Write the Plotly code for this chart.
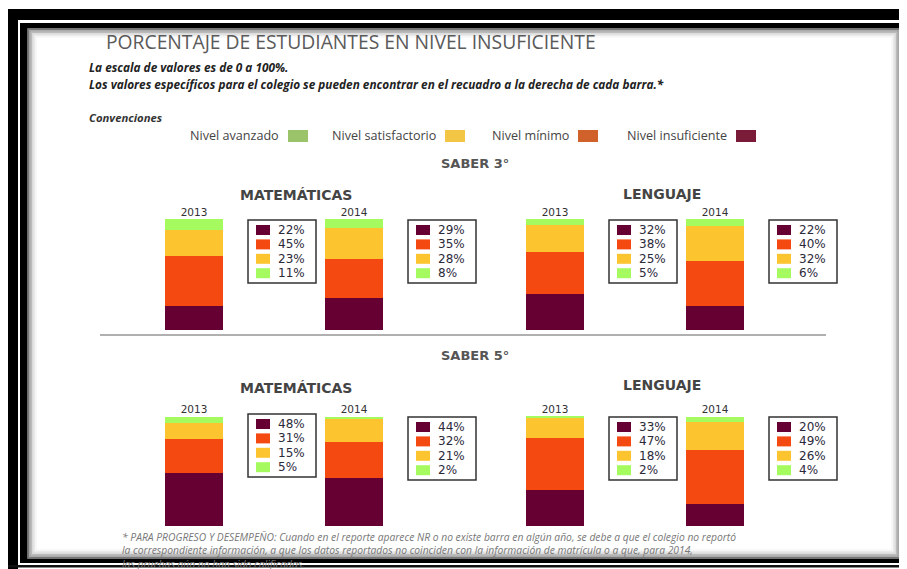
import plotly.graph_objects as go

# page body has an 8px margin: figure is drawn from (8, 8) of the window
OFF = 8
W, H = 907 - OFF, 569 - OFF

# ---------------- data ----------------
years = ["2013", "2014"]
levels = ["Nivel insuficiente", "Nivel mínimo", "Nivel satisfactorio", "Nivel avanzado"]
legend_order = ["Nivel avanzado", "Nivel satisfactorio", "Nivel mínimo", "Nivel insuficiente"]

# values per level: [insuficiente, minimo, satisfactorio, avanzado]
s3_mat_2013 = [22, 45, 23, 11]
s3_mat_2014 = [29, 35, 28, 8]
s3_len_2013 = [32, 38, 25, 5]
s3_len_2014 = [22, 40, 32, 6]
s5_mat_2013 = [48, 31, 15, 5]
s5_mat_2014 = [44, 32, 21, 2]
s5_len_2013 = [33, 47, 18, 2]
s5_len_2014 = [20, 49, 26, 4]

# ---------------- styles ----------------
bar_colors = ["#660033", "#F44A12", "#FCC52F", "#A5FA60"]
conv_colors = {"Nivel avanzado": "#9BC46A", "Nivel satisfactorio": "#F2C544",
               "Nivel mínimo": "#D0612A", "Nivel insuficiente": "#7A1B3A"}


def X(px):
    return (px - OFF) / W


def Y(py):
    return 1 - (py - OFF) / H


fig = go.Figure()

panels = [
    # (axis suffix, data 2013, data 2014, x domain px, y domain px (bottom, top), box tops)
    ("", s3_mat_2013, s3_mat_2014, (114, 434), (330, 219), (220, 220)),
    ("2", s3_len_2013, s3_len_2014, (475, 795), (330, 219), (220, 220)),
    ("3", s5_mat_2013, s5_mat_2014, (114, 434), (526, 416), (414, 417)),
    ("4", s5_len_2013, s5_len_2014, (475, 795), (526, 416), (417, 417)),
]

shapes = []
annotations = []

for suf, d13, d14, xd, yd, btops in panels:
    xa = "x" + suf
    ya = "y" + suf
    for li, lev in enumerate(levels):
        fig.add_trace(go.Bar(
            x=years, y=[d13[li], d14[li]], name=lev,
            marker=dict(color=bar_colors[li], line=dict(width=0)),
            width=0.3625, xaxis=xa, yaxis=ya, showlegend=False,
            hoverinfo="skip",
        ))
    ax = dict(domain=[X(xd[0]), X(xd[1])], range=[-0.5, 1.5], type="category",
              side="top", anchor=ya, showgrid=False, zeroline=False, showline=False,
              ticks="", tickfont=dict(family="DejaVu Sans", size=10.5, color="#333333"),
              ticklabelstandoff=0, fixedrange=True)
    ay = dict(domain=[Y(yd[0]), Y(yd[1])], range=[0, 100], anchor=xa, visible=False,
              fixedrange=True)
    fig.update_layout(**{"xaxis" + suf: ax, "yaxis" + suf: ay})

    # value boxes to the right of each bar
    span = xd[1] - xd[0]
    for yi, vals in enumerate([d13, d14]):
        cx = xd[0] + span * (yi + 0.5) / 2
        bl = cx + 54
        bt = btops[yi]
        shapes.append(dict(type="rect", xref="paper", yref="paper",
                           x0=X(bl), x1=X(bl + 68), y0=Y(bt), y1=Y(bt + 63),
                           line=dict(color="#333333", width=1.5), fillcolor="white"))
        for li, v in enumerate(vals):
            ry = bt + 10 + li * 14.4
            shapes.append(dict(type="rect", xref="paper", yref="paper",
                               x0=X(bl + 8), x1=X(bl + 22), y0=Y(ry - 5), y1=Y(ry + 5),
                               line=dict(width=0), fillcolor=bar_colors[li]))
            annotations.append(dict(x=X(bl + 28), y=Y(ry), xref="paper", yref="paper",
                                    text=f"{v}%", showarrow=False, xanchor="left",
                                    yanchor="middle",
                                    font=dict(family="DejaVu Sans", size=12, color="#2a2a3a")))


# ---------------- texts ----------------
def txt(x, y, s, size, color="#333333", family="Open Sans", xanchor="left", yanchor="middle"):
    annotations.append(dict(x=X(x), y=Y(y), xref="paper", yref="paper", text=s,
                            showarrow=False, xanchor=xanchor, yanchor=yanchor,
                            align="left",
                            font=dict(family=family, size=size, color=color)))


txt(104, 42, "PORCENTAJE DE ESTUDIANTES EN NIVEL INSUFICIENTE", 19.3, "#5a5a5a")
txt(87, 67, "<b><i>La escala de valores es de 0 a 100%.</i></b>", 11.8, "#222222")
txt(87, 84, "<b><i>Los valores específicos para el colegio se pueden encontrar en el recuadro a la derecha de cada barra.*</i></b>", 11.8, "#222222")
txt(87, 117, "<b><i>Convenciones</i></b>", 11.3, "#333333")

conv_square_left = {"Nivel avanzado": 288, "Nivel satisfactorio": 445,
                    "Nivel mínimo": 578, "Nivel insuficiente": 736}
for lev in legend_order:
    sl = conv_square_left[lev]
    txt(sl - 7, 136, lev, 12.6, "#444444", xanchor="right")
    shapes.append(dict(type="rect", xref="paper", yref="paper",
                       x0=X(sl), x1=X(sl + 20), y0=Y(130), y1=Y(142),
                       line=dict(width=0), fillcolor=conv_colors[lev]))

txt(475, 163, "<b>SABER 3°</b>", 13, "#555555", "DejaVu Sans", "center")
txt(475, 355, "<b>SABER 5°</b>", 13, "#555555", "DejaVu Sans", "center")
for yy in (195, 388):
    txt(296, yy, "<b>MATEMÁTICAS</b>", 14, "#444444", "DejaVu Sans", "center")
for yy in (194, 385):
    txt(662, yy, "<b>LENGUAJE</b>", 14, "#444444", "DejaVu Sans", "center")

shapes.append(dict(type="line", xref="paper", yref="paper", x0=X(100), x1=X(826),
                   y0=Y(335), y1=Y(335), line=dict(color="#b0b0b0", width=2)))

foot = ["* PARA PROGRESO Y DESEMPEÑO: Cuando en el reporte aparece NR o no existe barra en algún año, se debe a que el colegio no reportó",
        "la correspondiente información, a que los datos reportados no coinciden con la información de matrícula o a que, para 2014,",
        "las pruebas aún no han sido calificadas."]
txt(120, 528, "<i>" + "<br>".join(foot) + "</i>", 10.3, "#777777", yanchor="top")


# ---------------- frame ----------------
def rect(x0, y0, x1, y1, color):
    shapes.append(dict(type="rect", xref="paper", yref="paper", layer="above",
                       x0=X(x0), x1=X(x1), y0=Y(y0), y1=Y(y1),
                       line=dict(width=0), fillcolor=color))


grads = ["#444444", "#777777", "#9a9a9a", "#bbbbbb", "#d6d6d6", "#eaeaea", "#f6f6f6"]
for k, c in enumerate(grads):
    shapes.append(dict(type="rect", xref="paper", yref="paper", layer="above",
                       x0=X(27 + k * 1.5), x1=X(901 - k * 1.5),
                       y0=Y(28 + k * 1.5), y1=Y(559 - k * 1.5),
                       line=dict(color=c, width=1.6), fillcolor="rgba(0,0,0,0)"))
# outer frame
rect(8, 9, 907, 20, "black")
rect(8, 9, 18, 569, "black")
rect(8, 565, 907, 567.5, "#111111")
# inner frame
rect(20, 23, 907, 28, "black")
rect(20, 23, 27, 563, "black")
rect(20, 559, 907, 563, "black")
rect(901, 23, 907, 563, "black")

fig.update_layout(width=W, height=H, margin=dict(l=0, r=0, t=0, b=0),
                  paper_bgcolor="white", plot_bgcolor="rgba(0,0,0,0)",
                  barmode="stack", bargap=0, shapes=shapes, annotations=annotations,
                  showlegend=False)

fig.write_html("out.html")
